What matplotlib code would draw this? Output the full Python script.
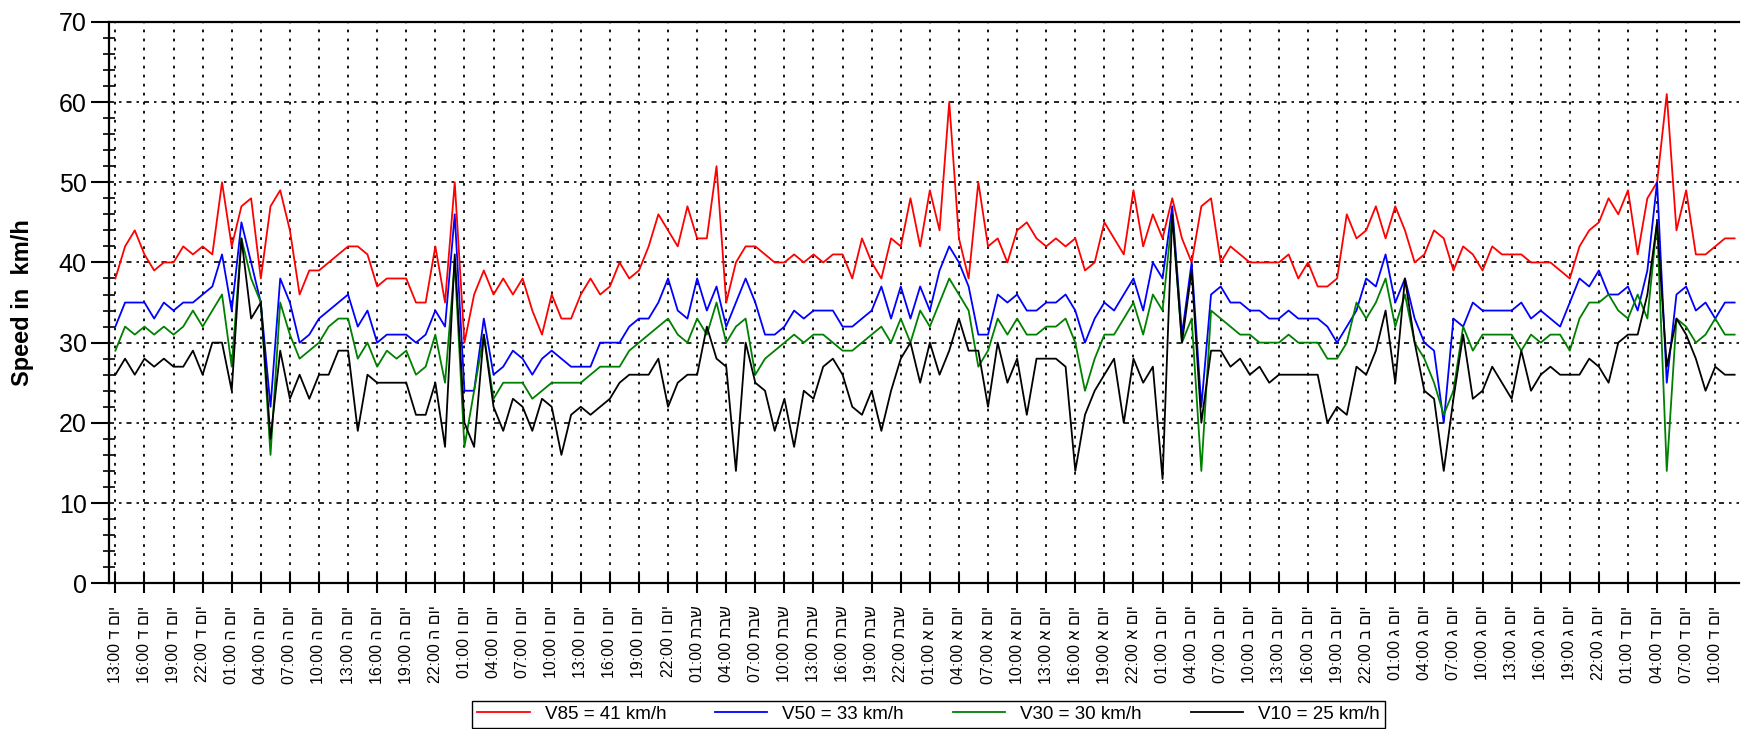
import matplotlib
matplotlib.use("Agg")
import matplotlib.pyplot as plt
from matplotlib.ticker import MultipleLocator

plt.rcParams["font.family"] = ["Liberation Sans", "DejaVu Sans"]

# hourly readings, 13:00 Wednesday onwards
hours = list(range(168))

v85 = [38, 42, 44, 41, 39, 40, 40, 42, 41, 42, 41, 50, 42, 47, 48, 38, 47, 49, 44, 36,
       39, 39, 40, 41, 42, 42, 41, 37, 38, 38, 38, 35, 35, 42, 35, 50, 30, 36, 39, 36,
       38, 36, 38, 34, 31, 36, 33, 33, 36, 38, 36, 37, 40, 38, 39, 42, 46, 44, 42, 47,
       43, 43, 52, 35, 40, 42, 42, 41, 40, 40, 41, 40, 41, 40, 41, 41, 38, 43, 40, 38,
       43, 42, 48, 42, 49, 44, 60, 43, 38, 50, 42, 43, 40, 44, 45, 43, 42, 43, 42, 43,
       39, 40, 45, 43, 41, 49, 42, 46, 43, 48, 43, 40, 47, 48, 40, 42, 41, 40, 40, 40,
       40, 41, 38, 40, 37, 37, 38, 46, 43, 44, 47, 43, 47, 44, 40, 41, 44, 43, 39, 42,
       41, 39, 42, 41, 41, 41, 40, 40, 40, 39, 38, 42, 44, 45, 48, 46, 49, 41, 48, 50,
       61, 44, 49, 41, 41, 42, 43, 43]

v50 = [32, 35, 35, 35, 33, 35, 34, 35, 35, 36, 37, 41, 34, 45, 40, 35, 22, 38, 35, 30,
       31, 33, 34, 35, 36, 32, 34, 30, 31, 31, 31, 30, 31, 34, 32, 46, 24, 24, 33, 26,
       27, 29, 28, 26, 28, 29, 28, 27, 27, 27, 30, 30, 30, 32, 33, 33, 35, 38, 34, 33,
       38, 34, 37, 32, 35, 38, 35, 31, 31, 32, 34, 33, 34, 34, 34, 32, 32, 33, 34, 37,
       33, 37, 33, 37, 34, 39, 42, 40, 37, 31, 31, 36, 35, 36, 34, 34, 35, 35, 36, 34,
       30, 33, 35, 34, 36, 38, 34, 40, 38, 47, 31, 40, 22, 36, 37, 35, 35, 34, 34, 33,
       33, 34, 33, 33, 33, 32, 30, 32, 34, 38, 37, 41, 35, 38, 33, 30, 29, 20, 33, 32,
       35, 34, 34, 34, 34, 35, 33, 34, 33, 32, 35, 38, 37, 39, 36, 36, 37, 34, 39, 50,
       25, 36, 37, 34, 35, 33, 35, 35]

v30 = [29, 32, 31, 32, 31, 32, 31, 32, 34, 32, 34, 36, 27, 43, 38, 35, 16, 35, 31, 28,
       29, 30, 32, 33, 33, 28, 30, 27, 29, 28, 29, 26, 27, 31, 25, 40, 17, 24, 31, 23,
       25, 25, 25, 23, 24, 25, 25, 25, 25, 26, 27, 27, 27, 29, 30, 31, 32, 33, 31, 30,
       33, 31, 35, 30, 32, 33, 26, 28, 29, 30, 31, 30, 31, 31, 30, 29, 29, 30, 31, 32,
       30, 33, 30, 34, 32, 35, 38, 36, 34, 27, 29, 33, 31, 33, 31, 31, 32, 32, 33, 30,
       24, 28, 31, 31, 33, 35, 31, 36, 34, 46, 30, 33, 14, 34, 33, 32, 31, 31, 30, 30,
       30, 31, 30, 30, 30, 28, 28, 30, 35, 33, 35, 38, 32, 36, 30, 28, 25, 21, 24, 32,
       29, 31, 31, 31, 31, 29, 31, 30, 31, 31, 29, 33, 35, 35, 36, 34, 33, 36, 33, 45,
       14, 33, 32, 30, 31, 33, 31, 31]

v10 = [26, 28, 26, 28, 27, 28, 27, 27, 29, 26, 30, 30, 24, 43, 33, 35, 18, 29, 23, 26,
       23, 26, 26, 29, 29, 19, 26, 25, 25, 25, 25, 21, 21, 25, 17, 41, 20, 17, 31, 22,
       19, 23, 22, 19, 23, 22, 16, 21, 22, 21, 22, 23, 25, 26, 26, 26, 28, 22, 25, 26,
       26, 32, 28, 27, 14, 30, 25, 24, 19, 23, 17, 24, 23, 27, 28, 26, 22, 21, 24, 19,
       24, 28, 30, 25, 30, 26, 29, 33, 29, 29, 22, 30, 25, 28, 21, 28, 28, 28, 27, 14,
       21, 24, 26, 28, 20, 28, 25, 27, 13, 46, 30, 39, 20, 29, 29, 27, 28, 26, 27, 25,
       26, 26, 26, 26, 26, 20, 22, 21, 27, 26, 29, 34, 25, 38, 30, 24, 23, 14, 23, 31,
       23, 24, 27, 25, 23, 29, 24, 26, 27, 26, 26, 26, 28, 27, 25, 30, 31, 31, 36, 45,
       27, 33, 31, 28, 24, 27, 26, 26]

series_labels = ["V85 = 41 km/h", "V50 = 33 km/h", "V30 = 30 km/h", "V10 = 25 km/h"]
series_colors = ["#ff0000", "#0000ff", "#008000", "#000000"]

# tick labels (Hebrew written in visual order, since matplotlib has no bidi)
tick_hours = list(range(0, 166, 3))
day_names = ["ד םוי", "ה םוי", "ו םוי", "תבש", "א םוי", "ב םוי", "ג םוי", "ד םוי"]
tick_labels = []
for h in tick_hours:
    clock = 13 + h
    tick_labels.append(f"{clock % 24:02d}:00 {day_names[clock // 24]}")

fig = plt.figure(figsize=(17.42, 7.29), dpi=100)
ax = fig.add_axes([0.0625, 0.200, 0.9355, 0.770])

for values, label, color in zip([v85, v50, v30, v10], series_labels, series_colors):
    ax.plot(hours, values, color=color, lw=1.3, label=label)

ax.set_xlim(-0.67, 167.4)
ax.set_ylim(0, 70)

ax.set_xticks(tick_hours)
ax.set_xticklabels(tick_labels, rotation=90, fontsize=11.5)
ax.yaxis.set_major_locator(MultipleLocator(10))
ax.yaxis.set_minor_locator(MultipleLocator(2))

ax.tick_params(axis="x", direction="inout", length=14, width=1.5, pad=9)
ax.tick_params(axis="y", which="major", direction="out", length=13, width=1.5,
               labelsize=18, pad=3)
ax.tick_params(axis="y", which="minor", direction="inout", length=9, width=1.2)

ax.grid(axis="x", color="black", linestyle=(0, (1.5, 3.5)), lw=1.3)
ax.grid(axis="y", color="black", linestyle=(0, (3, 3, 1.5, 3)), lw=1.2)

ax.spines["right"].set_visible(False)
for side in ["left", "bottom", "top"]:
    ax.spines[side].set_linewidth(1.6)

ax.set_ylabel("Speed in  km/h", fontsize=17, fontweight="bold")
ax.yaxis.set_label_coords(-0.046, 0.5)

fig.legend(loc="lower center", bbox_to_anchor=(0.533, 0.002), ncol=4,
           fontsize=13.5, frameon=True, fancybox=False, edgecolor="black",
           framealpha=1, borderpad=0.25, handlelength=2.8, handletextpad=0.8,
           columnspacing=2.6, borderaxespad=0)

fig.savefig("out.png", dpi=100)
plt.close(fig)
